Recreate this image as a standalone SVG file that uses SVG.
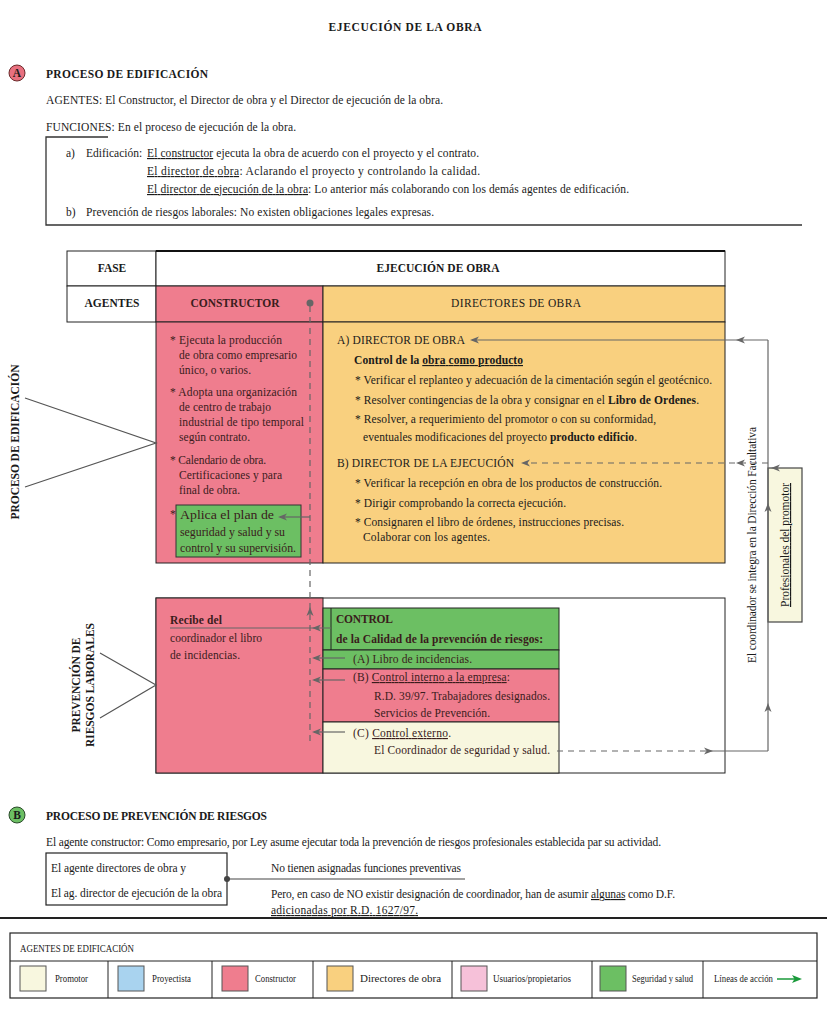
<svg xmlns="http://www.w3.org/2000/svg" xmlns:xlink="http://www.w3.org/1999/xlink" width="827" height="1010" viewBox="0 0 827 1010">
<style>
.t{font-family:"Liberation Serif","Times New Roman",serif;font-size:11.5px;fill:#1a1a1a}
.s{font-size:10.5px}
.b{font-weight:bold}
.u{text-decoration:underline}
.dk{fill:#3a1c1c}
.ln{stroke:#666;stroke-width:1.2;fill:none}
.dl{stroke:#666;stroke-width:1.2;fill:none;stroke-dasharray:6 5}
.bx{stroke:#222;stroke-width:1}
.pk{fill:#ef7d8e}
.or{fill:#f9d07f}
.gr{fill:#6cbf63}
.cr{fill:#f8f7df}
.wh{fill:#fff}
</style>
<defs>
<path id="ar" d="M0,0 L-9,-3.5 L-6.5,0 L-9,3.5 z" fill="#666"/>
</defs>
<rect width="827" height="1010" fill="#fff"/>

<text class="t b" x="405" y="31" text-anchor="middle" font-size="13" textLength="153">EJECUCIÓN DE LA OBRA</text>

<g id="sectionA">
<circle cx="17" cy="73" r="8" fill="#e8707f" stroke="#6a2a2a" stroke-width="1"/>
<text class="t b" x="17" y="77" text-anchor="middle" font-size="10">A</text>
<text class="t b" x="46" y="78" font-size="12.5" textLength="162">PROCESO DE EDIFICACIÓN</text>
<text class="t" x="46" y="104" textLength="397">AGENTES: El Constructor, el Director de obra y el Director de ejecución de la obra.</text>
<text class="t" x="46" y="131" textLength="250">FUNCIONES: En el proceso de ejecución de la obra.</text>
<path d="M108,137 H46 V225 H802" fill="none" stroke="#333" stroke-width="1.3"/>
<text class="t" x="66" y="157">a)</text>
<text class="t" x="86" y="157">Edificación:</text>
<text class="t" x="147" y="157" textLength="332"><tspan class="u">El constructor</tspan> ejecuta la obra de acuerdo con el proyecto y el contrato.</text>
<text class="t" x="147" y="175" textLength="333"><tspan class="u">El director de obra</tspan>: Aclarando el proyecto y controlando la calidad.</text>
<text class="t" x="147" y="193" textLength="482"><tspan class="u">El director de ejecución de la obra</tspan>: Lo anterior más colaborando con los demás agentes de edificación.</text>
<text class="t" x="66" y="216">b)</text>
<text class="t" x="86" y="216" textLength="348">Prevención de riesgos laborales: No existen obligaciones legales expresas.</text>
</g>

<g id="table-header">
<rect class="bx wh" x="67" y="251" width="89" height="35"/>
<rect class="bx wh" x="156" y="251" width="569" height="35"/>
<line x1="156" y1="251" x2="725" y2="251" stroke="#111" stroke-width="2.2"/>
<rect class="bx wh" x="67" y="286" width="89" height="36"/>
<text class="t b" x="112" y="272" text-anchor="middle">FASE</text>
<text class="t b" x="438" y="272" text-anchor="middle" textLength="123">EJECUCIÓN DE OBRA</text>
<text class="t b" x="112" y="307" text-anchor="middle">AGENTES</text>
</g>

<g id="constructor">
<rect class="bx pk" x="156" y="286" width="167" height="36"/>
<rect class="bx pk" x="156" y="322" width="167" height="241"/>
<text class="t b dk" x="235" y="307" text-anchor="middle" textLength="89">CONSTRUCTOR</text>
<g class="t dk" font-size="12">
<text x="170" y="344" textLength="112">* Ejecuta la producción</text>
<text x="179" y="359" textLength="118">de obra como empresario</text>
<text x="179" y="374" textLength="72">único, o varios.</text>
<text x="170" y="396" textLength="127">* Adopta una organización</text>
<text x="179" y="411" textLength="92">de centro de trabajo</text>
<text x="179" y="426" textLength="125">industrial de tipo temporal</text>
<text x="179" y="441" textLength="71">según contrato.</text>
<text x="170" y="464" textLength="96">* Calendario de obra.</text>
<text x="179" y="479" textLength="103">Certificaciones y para</text>
<text x="179" y="494" textLength="61">final de obra.</text>
<text x="170" y="518">*</text>
</g>
</g>

<g id="seguridad-plan">
<rect x="176" y="505" width="125" height="52" class="gr" stroke="#333" stroke-width="1"/>
<g class="t dk" font-size="12.5">
<text x="180" y="519" textLength="94" lengthAdjust="spacingAndGlyphs">Aplica el plan de</text>
<text x="180" y="536" textLength="105" lengthAdjust="spacingAndGlyphs">seguridad y salud y su</text>
<text x="180" y="552" textLength="116" lengthAdjust="spacingAndGlyphs">control y su supervisión.</text>
</g>
</g>

<g id="directores">
<rect class="bx or" x="323" y="286" width="402" height="36"/>
<rect class="bx or" x="323" y="322" width="402" height="241"/>
<text class="t" x="516" y="307" text-anchor="middle" textLength="130">DIRECTORES DE OBRA</text>
<g class="t">
<text x="337" y="344" textLength="128">A) DIRECTOR DE OBRA</text>
<text x="354" y="364" class="b" textLength="169">Control de la <tspan class="u">obra como producto</tspan></text>
<text x="355" y="384" textLength="357">* Verificar el replanteo y adecuación de la cimentación según el geotécnico.</text>
<text x="355" y="404" textLength="344">* Resolver contingencias de la obra y consignar en el <tspan class="b">Libro de Ordenes</tspan>.</text>
<text x="355" y="423" textLength="301">* Resolver, a requerimiento del promotor o con su conformidad,</text>
<text x="363" y="441" textLength="274">eventuales modificaciones del proyecto <tspan class="b">producto edificio</tspan>.</text>
<text x="337" y="467" textLength="177">B) DIRECTOR DE LA EJECUCIÓN</text>
<text x="355" y="487" textLength="307">* Verificar la recepción en obra de los productos de construcción.</text>
<text x="355" y="507" textLength="211">* Dirigir comprobando la correcta ejecución.</text>
<text x="355" y="526" textLength="269">* Consignaren el libro de órdenes, instrucciones precisas.</text>
<text x="363" y="541" textLength="127">Colaborar con los agentes.</text>
</g>
</g>

<g id="prevencion">
<rect class="bx wh" x="156" y="598" width="569" height="175"/>
<rect class="bx pk" x="156" y="598" width="167" height="175"/>
<g class="t dk">
<text x="170" y="624" class="b" textLength="52">Recibe del</text>
<text x="170" y="642" textLength="92">coordinador el libro</text>
<text x="170" y="659" textLength="70">de incidencias.</text>
</g>
</g>

<g id="control">
<rect class="gr" x="323" y="608" width="236" height="42" stroke="#222" stroke-width="1"/>
<line x1="331" y1="608" x2="331" y2="650" stroke="#222" stroke-width="1"/>
<rect class="gr" x="323" y="650" width="236" height="19" stroke="#222" stroke-width="1"/>
<rect class="pk" x="323" y="669" width="236" height="53" stroke="#222" stroke-width="1"/>
<rect class="cr" x="323" y="722" width="236" height="51" stroke="#222" stroke-width="1"/>
<g class="t dk">
<text x="336" y="623" class="b" textLength="57">CONTROL</text>
<text x="336" y="643" class="b" textLength="207">de la Calidad de la prevención de riesgos:</text>
<text x="353" y="663" textLength="119">(A) Libro de incidencias.</text>
<text x="353" y="681" textLength="157">(B) <tspan class="u">Control interno a la empresa</tspan>:</text>
<text x="374" y="700" textLength="176">R.D. 39/97. Trabajadores designados.</text>
<text x="374" y="717" textLength="116">Servicios de Prevención.</text>
<text x="353" y="737" textLength="98">(C) <tspan class="u">Control externo</tspan>.</text>
<text x="374" y="754" textLength="176">El Coordinador de seguridad y salud.</text>
</g>
</g>

<g id="promotor">
<rect class="cr" x="768" y="468" width="34" height="154" stroke="#444" stroke-width="1.2"/>
<text class="t u" transform="translate(789,545) rotate(-90)" text-anchor="middle" textLength="124">Profesionales del promotor</text>
</g>

<g id="labels">
<text class="t" transform="translate(756,545) rotate(-90)" text-anchor="middle" textLength="236">El coordinador se integra en la Dirección Facultativa</text>
<text class="t b" transform="translate(19,442) rotate(-90)" text-anchor="middle" textLength="155">PROCESO DE EDIFICACIÓN</text>
<text class="t b" transform="translate(80,685) rotate(-90)" text-anchor="middle" textLength="95">PREVENCIÓN DE</text>
<text class="t b" transform="translate(94,685) rotate(-90)" text-anchor="middle" textLength="124">RIESGOS LABORALES</text>
</g>

<g id="connectors">
<path d="M25,398 L156,443 L25,487" fill="none" stroke="#555" stroke-width="1.2"/>
<path d="M100,653 L156,685 L100,718" fill="none" stroke="#555" stroke-width="1.2"/>
<circle cx="310" cy="303" r="3.5" fill="#666"/>
<line class="dl" x1="310" y1="306" x2="310" y2="742"/>
<use xlink:href="#ar" href="#ar" transform="translate(310,607) rotate(-90)"/>
<line class="ln" x1="310" y1="517" x2="280" y2="517"/>
<use xlink:href="#ar" href="#ar" transform="translate(278,517) rotate(180)"/>
<line class="ln" x1="170" y1="628" x2="331" y2="628"/>
<use xlink:href="#ar" href="#ar" transform="translate(312,628) rotate(180)"/>
<line class="ln" x1="345" y1="658" x2="314" y2="658"/>
<use xlink:href="#ar" href="#ar" transform="translate(312,658) rotate(180)"/>
<line class="ln" x1="345" y1="680" x2="314" y2="680"/>
<use xlink:href="#ar" href="#ar" transform="translate(312,680) rotate(180)"/>
<line class="ln" x1="345" y1="732" x2="314" y2="732"/>
<use xlink:href="#ar" href="#ar" transform="translate(312,732) rotate(180)"/>
<line class="ln" x1="768" y1="340" x2="472" y2="340"/>
<use xlink:href="#ar" href="#ar" transform="translate(470,340) rotate(180)"/>
<use xlink:href="#ar" href="#ar" transform="translate(736,340) rotate(180)"/>
<line class="dl" x1="768" y1="463" x2="524" y2="463"/>
<use xlink:href="#ar" href="#ar" transform="translate(521,463) rotate(180)"/>
<use xlink:href="#ar" href="#ar" transform="translate(736,463) rotate(180)"/>
<use xlink:href="#ar" href="#ar" transform="translate(771,468) rotate(180)"/>
<line class="ln" x1="768" y1="340" x2="768" y2="751"/>
<use xlink:href="#ar" href="#ar" transform="translate(768,503) rotate(-90)"/>
<use xlink:href="#ar" href="#ar" transform="translate(768,703) rotate(-90)"/>
<line class="dl" x1="557" y1="751" x2="710" y2="751"/>
<use xlink:href="#ar" href="#ar" transform="translate(713,751)"/>
<line class="ln" x1="710" y1="751" x2="768" y2="751"/>
</g>

<g id="sectionB">
<circle cx="17" cy="815" r="8" fill="#6cbf63" stroke="#2a4a2a" stroke-width="1"/>
<text class="t b" x="17" y="819" text-anchor="middle" font-size="10">B</text>
<text class="t b" x="46" y="820" font-size="12.5" textLength="221">PROCESO DE PREVENCIÓN DE RIESGOS</text>
<text class="t" x="46" y="846" textLength="615">El agente constructor: Como empresario, por Ley asume ejecutar toda la prevención de riesgos profesionales establecida par su actividad.</text>
<rect x="46" y="853" width="181" height="52" fill="#fff" stroke="#222" stroke-width="1.2"/>
<text class="t" x="51" y="872" textLength="135">El agente directores de obra y</text>
<text class="t" x="51" y="897" textLength="171">El ag. director de ejecución de la obra</text>
<circle cx="227" cy="879" r="3" fill="#444"/>
<line x1="227" y1="879" x2="465" y2="879" stroke="#444" stroke-width="1.2"/>
<text class="t" x="271" y="872" textLength="190">No tienen asignadas funciones preventivas</text>
<text class="t" x="271" y="898" textLength="404">Pero, en caso de NO existir designación de coordinador, han de asumir <tspan class="u">algunas</tspan> como D.F.</text>
<text class="t u" x="271" y="914" textLength="147">adicionadas por R.D. 1627/97.</text>
<line x1="0" y1="918" x2="827" y2="918" stroke="#222" stroke-width="2"/>
</g>

<g id="legend">
<rect x="10" y="933" width="807" height="65" fill="#fff" stroke="#222" stroke-width="1.2"/>
<line x1="10" y1="961" x2="817" y2="961" stroke="#222" stroke-width="1"/>
<g stroke="#222" stroke-width="1">
<line x1="108" y1="961" x2="108" y2="998"/>
<line x1="212" y1="961" x2="212" y2="998"/>
<line x1="313" y1="961" x2="313" y2="998"/>
<line x1="452" y1="961" x2="452" y2="998"/>
<line x1="592" y1="961" x2="592" y2="998"/>
<line x1="703" y1="961" x2="703" y2="998"/>
</g>
<text class="t s" x="20" y="952" textLength="114" lengthAdjust="spacingAndGlyphs">AGENTES DE EDIFICACIÓN</text>
<g stroke="#555" stroke-width="1">
<rect x="20" y="966" width="26" height="25" fill="#f8f7df"/>
<rect x="118" y="966" width="26" height="25" fill="#a9d3ef"/>
<rect x="222" y="966" width="26" height="25" fill="#ef7d8e"/>
<rect x="327" y="966" width="26" height="25" fill="#f9d07f"/>
<rect x="461" y="966" width="26" height="25" fill="#f6c1d9"/>
<rect x="600" y="966" width="26" height="25" fill="#6cbf63"/>
</g>
<g class="t s">
<text x="55" y="982" textLength="33" lengthAdjust="spacingAndGlyphs">Promotor</text>
<text x="152" y="982" textLength="39" lengthAdjust="spacingAndGlyphs">Proyectista</text>
<text x="255" y="982" textLength="41" lengthAdjust="spacingAndGlyphs">Constructor</text>
<text x="360" y="982" textLength="81" lengthAdjust="spacingAndGlyphs">Directores de obra</text>
<text x="493" y="982" textLength="78" lengthAdjust="spacingAndGlyphs">Usuarios/propietarios</text>
<text x="632" y="982" textLength="61" lengthAdjust="spacingAndGlyphs">Seguridad y salud</text>
<text x="714" y="982" textLength="59" lengthAdjust="spacingAndGlyphs">Líneas de acción</text>
</g>
<line x1="777" y1="979" x2="796" y2="979" stroke="#1a9a3a" stroke-width="1.5"/>
<path d="M802,979 L792,975 L794.5,979 L792,983 z" fill="#1a9a3a"/>
</g>
</svg>
